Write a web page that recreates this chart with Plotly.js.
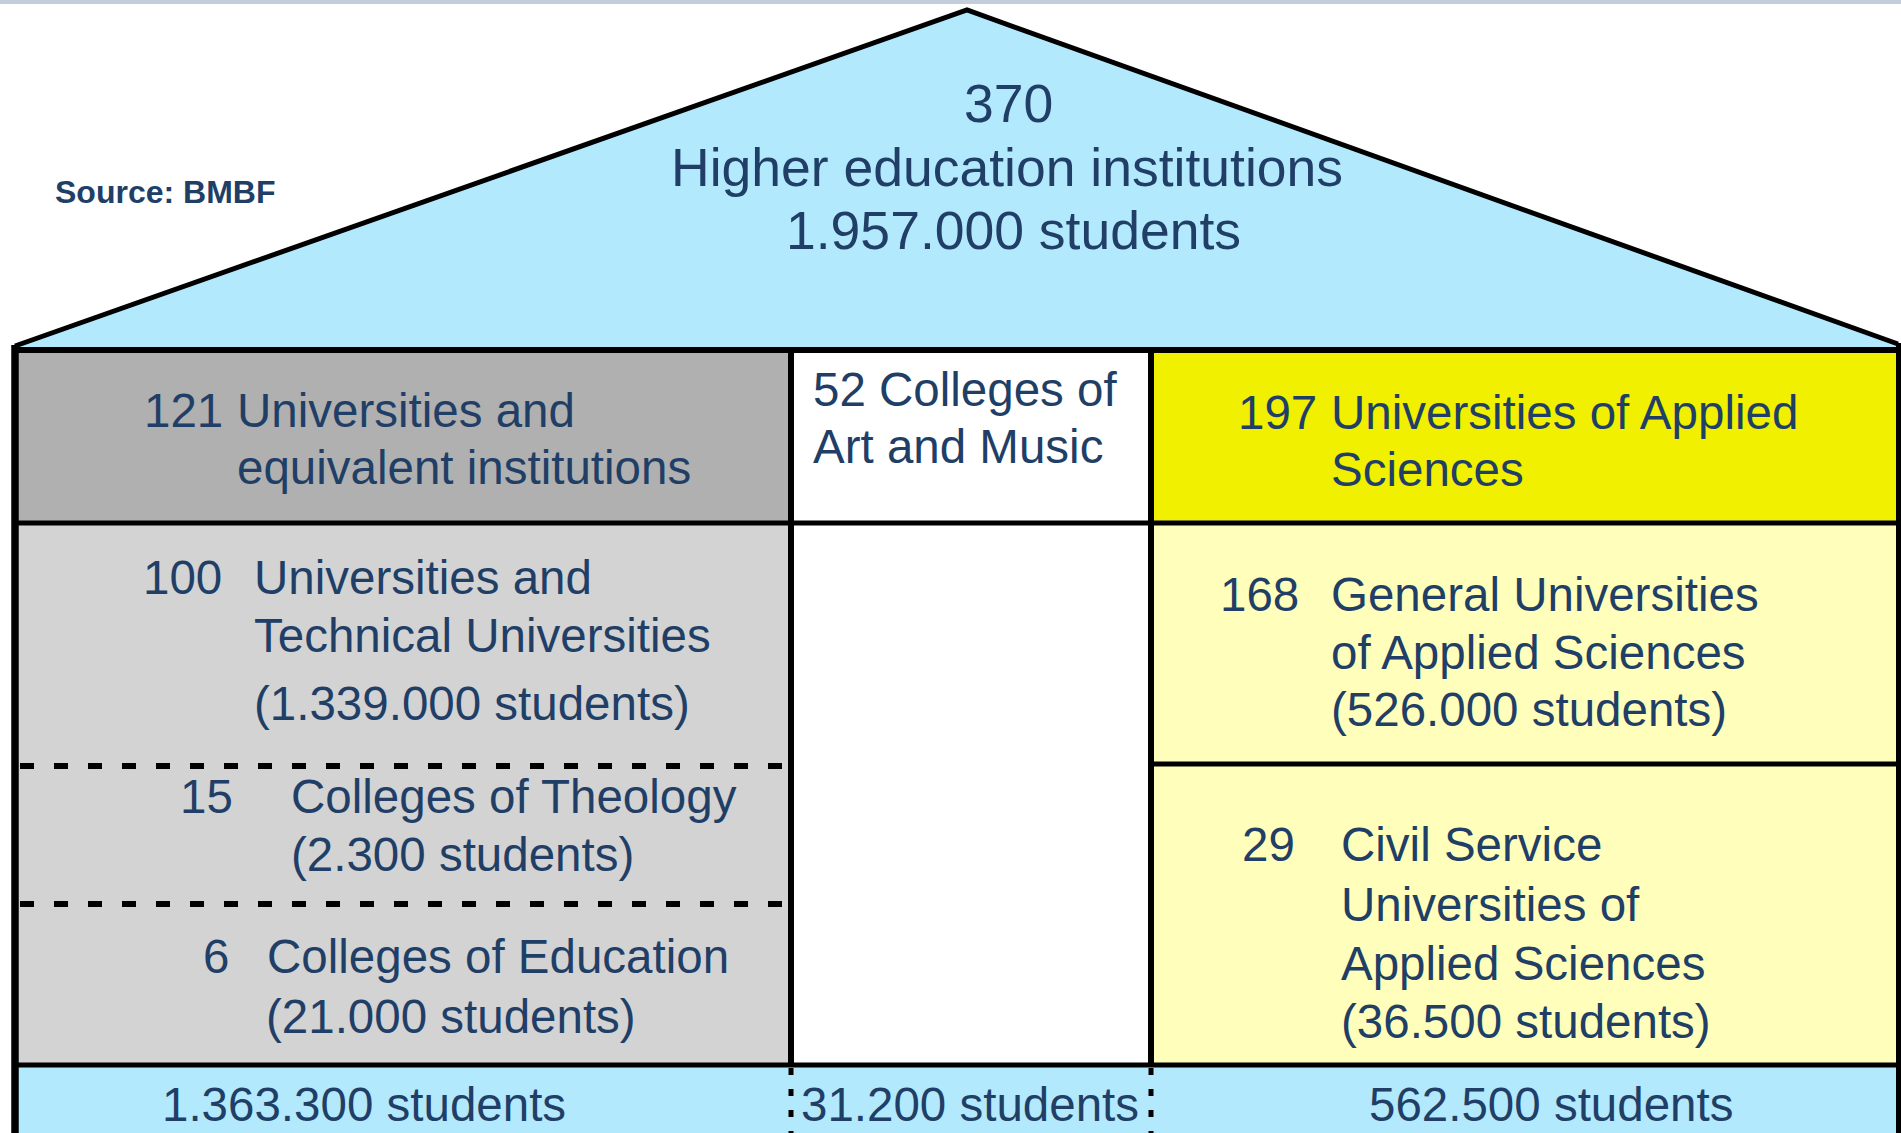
<!DOCTYPE html>
<html>
<head>
<meta charset="utf-8">
<script src="https://cdn.plot.ly/plotly-3.0.1.min.js"></script>
<style>
  html, body { margin: 0; padding: 0; background: #ffffff; overflow: hidden; }
  #chart { width: 1901px; height: 1133px; }
</style>
</head>
<body>
<div id="chart"></div>
<script>
// ---------- DATA ----------
const totalInstitutions = 370;
const totalLabel = "Higher education institutions";
const totalStudents = "1.957.000";
const sourceText = "Source: BMBF";

const groupCounts = [121, 52, 197];
const groupLabels = [
  ["Universities and", "equivalent institutions"],
  ["Colleges of", "Art and Music"],
  ["Universities of Applied", "Sciences"]
];
const groupStudents = ["1.363.300", "31.200", "562.500"];

const subCounts = [100, 15, 6, 168, 29];
const subLabels = [
  ["Universities and", "Technical Universities"],
  ["Colleges of Theology"],
  ["Colleges of Education"],
  ["General Universities", "of Applied Sciences"],
  ["Civil Service", "Universities of", "Applied Sciences"]
];
const subStudents = ["1.339.000", "2.300", "21.000", "526.000", "36.500"];

// ---------- LAYOUT GEOMETRY / STYLE ----------
const COL = { roof: '#b3e9fd', dark: '#b0b0b0', light: '#d3d3d3', white: '#ffffff',
              yellow: '#f0f000', lyellow: '#ffffbb', text: '#213f66', band: '#c2ced9', line: '#000000' };
const X = { l: 15, c1: 791, c2: 1151, r: 1898 };
const Y = { top: 350, r1: 523, dl1: 766, dl2: 904, rr: 764, bot: 1065, end: 1145 };
const FONT = 'Liberation Sans, Arial, Helvetica, sans-serif';

const shapes = [];
function rect(x0, y0, x1, y1, fill) {
  shapes.push({ type: 'rect', xref: 'x', yref: 'y', x0, y0, x1, y1, fillcolor: fill, line: { width: 0 }, layer: 'above' });
}
function line(x0, y0, x1, y1, w, dash) {
  shapes.push({ type: 'line', xref: 'x', yref: 'y', x0, y0, x1, y1, line: { color: COL.line, width: w, dash: dash || 'solid' }, layer: 'above' });
}

// top band
rect(0, 0, 1901, 4, COL.band);
// roof
shapes.push({ type: 'path', xref: 'x', yref: 'y', path: `M ${X.l} ${Y.top} L ${X.l} 346 L 967 10 L ${X.r} 344 L ${X.r} ${Y.top} Z`,
  fillcolor: COL.roof, line: { width: 0 }, layer: 'above' });
shapes.push({ type: 'path', xref: 'x', yref: 'y', path: `M ${X.l} 346 L 967 10 L ${X.r} 344`,
  line: { color: COL.line, width: 5 }, layer: 'above' });
// cells
rect(X.l, Y.top, X.c1, Y.r1, COL.dark);
rect(X.l, Y.r1, X.c1, Y.bot, COL.light);
rect(X.c1, Y.top, X.c2, Y.bot, COL.white);
rect(X.c2, Y.top, X.r, Y.r1, COL.yellow);
rect(X.c2, Y.r1, X.r, Y.bot, COL.lyellow);
rect(X.l, Y.bot, X.r, Y.end, COL.roof);
// grid lines
line(X.l, Y.top, X.r + 5, Y.top, 6);
line(X.l, Y.r1, X.r, Y.r1, 5);
line(X.c2, Y.rr, X.r, Y.rr, 5);
line(X.l + 5, Y.dl1, X.c1 + 3, Y.dl1, 6, '14px,20px');
line(X.l + 5, Y.dl2, X.c1 + 3, Y.dl2, 6, '14px,20px');
line(X.l, Y.bot, X.r, Y.bot, 5);
line(X.c1, Y.top, X.c1, Y.bot, 6);
line(X.c2, Y.top, X.c2, Y.bot, 6);
line(X.c1, Y.bot + 3, X.c1, Y.end, 5, '7px,14px');
line(X.c2, Y.bot + 3, X.c2, Y.end, 5, '7px,14px');
line(X.l, 345, X.l, Y.end, 7.5);
line(X.r + 1, 343, X.r + 1, Y.end, 6);

// ---------- TEXT ----------
const annotations = [];
function ann(text, x, y, size, xanchor, bold) {
  annotations.push({ xref: 'x', yref: 'y', x, y, text: bold ? '<b>' + text + '</b>' : text,
    showarrow: false, xanchor: xanchor || 'left', yanchor: 'middle', align: xanchor === 'center' ? 'center' : 'left',
    borderpad: 0, font: { family: FONT, size, color: COL.text } });
}

// roof
ann(String(totalInstitutions), 1008, 103, 53.5, 'center');
ann(totalLabel, 1007, 167, 53.5, 'center');
ann(totalStudents + ' students', 1013, 230, 53.5, 'center');
ann(sourceText, 54, 192, 32, 'left', true);

const S = 47.5;
// group headers
ann(String(groupCounts[0]), 143, 410, S);
ann(groupLabels[0][0], 236, 410, S);
ann(groupLabels[0][1], 236, 467, S);
ann(groupCounts[1] + ' ' + groupLabels[1][0], 812, 389, S);
ann(groupLabels[1][1], 812, 446, S);
ann(String(groupCounts[2]), 1237, 412, S);
ann(groupLabels[2][0], 1330, 412, S);
ann(groupLabels[2][1], 1330, 469, S);

// sub categories
ann(String(subCounts[0]), 142, 577, S);
ann(subLabels[0][0], 253, 577, S);
ann(subLabels[0][1], 253, 635, S);
ann('(' + subStudents[0] + ' students)', 253, 703, S);

ann(String(subCounts[1]), 179, 796, S);
ann(subLabels[1][0], 290, 796, S);
ann('(' + subStudents[1] + ' students)', 290, 854, S);

ann(String(subCounts[2]), 202, 956, S);
ann(subLabels[2][0], 266, 956, S);
ann('(' + subStudents[2] + ' students)', 265, 1016, S);

ann(String(subCounts[3]), 1219, 594, S);
ann(subLabels[3][0], 1330, 594, S);
ann(subLabels[3][1], 1330, 652, S);
ann('(' + subStudents[3] + ' students)', 1330, 709, S);

ann(String(subCounts[4]), 1241, 844, S);
ann(subLabels[4][0], 1340, 844, S);
ann(subLabels[4][1], 1340, 904, S);
ann(subLabels[4][2], 1340, 963, S);
ann('(' + subStudents[4] + ' students)', 1340, 1021, S);

// bottom totals
ann(groupStudents[0] + ' students', 364, 1104, S, 'center');
ann(groupStudents[1] + ' students', 970, 1104, S, 'center');
ann(groupStudents[2] + ' students', 1551, 1104, S, 'center');

const layout = {
  width: 1901, height: 1133,
  margin: { l: 0, r: 0, t: 0, b: 0, pad: 0 },
  paper_bgcolor: '#ffffff', plot_bgcolor: '#ffffff',
  showlegend: false,
  xaxis: { range: [0, 1901], visible: false, fixedrange: true },
  yaxis: { range: [1133, 0], visible: false, fixedrange: true },
  shapes, annotations
};

Plotly.newPlot('chart', [{ x: [], y: [], type: 'scatter', mode: 'markers', hoverinfo: 'skip' }], layout,
  { staticPlot: true, displayModeBar: false });
</script>
</body>
</html>
